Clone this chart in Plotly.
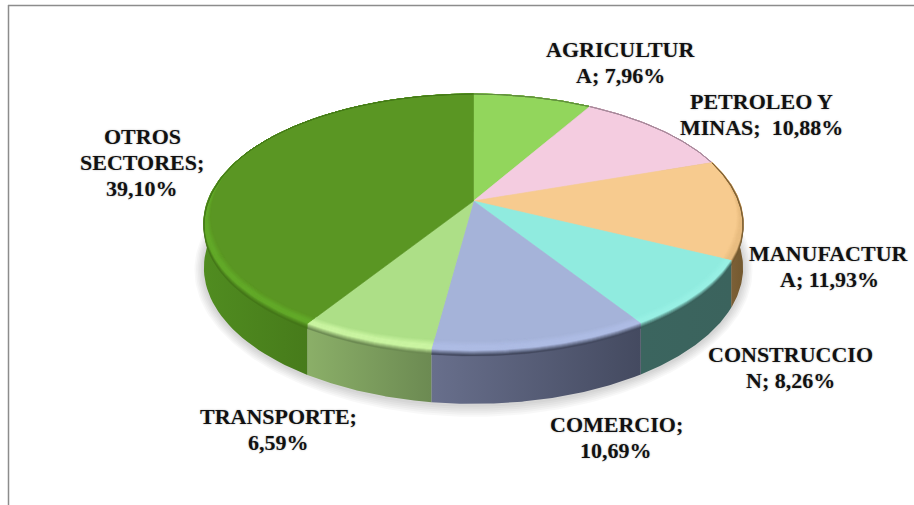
import numpy as np
import plotly.graph_objects as go

# slices run clockwise from 12 o'clock
names = ['AGRICULTUR<br>A', 'PETROLEO Y<br>MINAS', 'MANUFACTUR<br>A', 'CONSTRUCCIO<br>N',
         'COMERCIO', 'TRANSPORTE', 'OTROS<br>SECTORES']
values = [7.96, 10.88, 11.93, 8.26, 10.69, 6.59, 39.10]
separators = [' ', '  ', ' ', ' ', '<br>', '<br>', '<br>']

top_colors = ['#92D65C', '#F4CCE0', '#F7CB8F', '#90EBDF', '#A5B3D9', '#ADDF87', '#5A9623']
glow_colors = ['#92D65C', '#F4CCE0', '#E8BC80', '#98F0E4', '#AEBCE4', '#CBF5A2', '#63AA29']
side_colors = [
    ['#5F8A3C', '#5F8A3C'],
    ['#A08595', '#A08595'],
    ['#8A6C46', '#74592F'],
    ['#3B655F', '#3B635D'],
    ['#686F8C', '#444A60'],
    ['#8BAF68', '#6C8A52'],
    ['#508C20', '#447619', '#4A7F1B'],
]

# label centres in page pixels
label_x = [620, 761, 829, 790, 616, 278, 142]
label_y = [62, 114, 266, 367, 437, 429, 162]
LINE_PITCH = 26

# perspective of the disc, page pixels
CX, CY = 473.5, 201
A, B, K = 265.8, 124.9, 0.1673
DEPTH = 44


def project(t, r=1.0):
    u, v = r * np.sin(t), r * np.cos(t)
    d = 1 + K * v
    return CX + A * u / d, CY - B * v / d


def drop(t):
    return DEPTH / (1 + K * np.cos(t))


def rim(t, off):
    # off > 0 moves in along the spoke, off < 0 moves down the wall
    x, y = project(t)
    fade = np.clip((0.38 - np.cos(t)) / 0.7, 0, 1)
    if off >= 0:
        length = np.hypot(x - CX, y - CY)
        return project(t, 1 - off * fade / length)
    return x, y - off * fade


def blend(c1, c2, f):
    a = [int(c1[i:i + 2], 16) for i in (1, 3, 5)]
    b = [int(c2[i:i + 2], 16) for i in (1, 3, 5)]
    return '#%02X%02X%02X' % tuple(round(p + (q - p) * f) for p, q in zip(a, b))


def scale(colors):
    return [[i / (len(colors) - 1), c] for i, c in enumerate(colors)]


fig = go.Figure()


def add_poly(x, y, **style):
    fig.add_trace(go.Scatter(x=x, y=y, mode='lines', fill='toself', hoverinfo='skip',
                             line=style.pop('line', dict(width=0)), **style))


edges = np.concatenate([[0], np.cumsum(values)]) / sum(values) * 2 * np.pi
arcs = [np.linspace(a, b, 80) for a, b in zip(edges[:-1], edges[1:])]

# soft shadow under the wall
whole = np.linspace(0, 2 * np.pi, 240)
for grow in (12, 10, 8, 6, 4, 2):
    x, y = project(whole)
    y = y + drop(whole)
    dist = np.hypot(x - CX, y - CY - 30)
    add_poly(x + (x - CX) / dist * grow * 0.8, y + (y - CY - 30) / dist * grow + 1,
             fillcolor='rgba(0,0,0,0.028)')

# outer wall
for t, cols in zip(arcs, side_colors):
    x, y = project(t)
    add_poly(np.r_[x, x[::-1]], np.r_[y, (y + drop(t))[::-1]],
             fillgradient=dict(type='horizontal', colorscale=scale(cols)))

# top wedges
for t, col in zip(arcs, top_colors):
    x, y = project(t)
    add_poly(np.r_[CX, x, CX], np.r_[CY, y, CY], fillcolor=col, line=dict(width=0.6, color=col))

# bevel along the rim, one pixel steps from the top face into the wall
for t, top, glow, cols in zip(arcs, top_colors, glow_colors, side_colors):
    mid = cols[len(cols) // 2]
    for off in np.arange(9, -5, -1.0):
        if off > 4:
            col = blend(top, glow, (9 - off) / 5)
        elif off > 1:
            col = glow
        else:
            col = blend(glow, mid, (1 - off) / 5)
        xi, yi = rim(t, off)
        xo, yo = rim(t, off - 1)
        add_poly(np.r_[xi, xo[::-1]], np.r_[yi, yo[::-1]], fillcolor=col,
                 line=dict(width=0.5, color=col))

for name, sep, val, lx, ly in zip(names, separators, values, label_x, label_y):
    text = f"{name};" + sep + f"{val:.2f}%".replace('.', ',')
    lines = text.split('<br>')
    for i, line in enumerate(lines):
        fig.add_annotation(x=lx, y=ly + (i - (len(lines) - 1) / 2) * LINE_PITCH, text=f"<b>{line}</b>",
                           showarrow=False, xanchor='center', yanchor='middle',
                           font=dict(family='Liberation Serif', size=22, color='#111111',
                                     shadow='0 0 2px rgba(0,0,0,0.3)'))

# frame cropped by the picture edge
frame = dict(color='#8C8C8C', width=1.5)
fig.add_shape(type='line', x0=8, x1=914, y0=5.5, y1=5.5, line=frame)
fig.add_shape(type='line', x0=8.5, x1=8.5, y0=5, y1=505, line=frame)

fig.update_layout(
    width=914, height=505,
    margin=dict(l=0, r=0, t=0, b=0),
    paper_bgcolor='white', plot_bgcolor='white',
    showlegend=False,
    xaxis=dict(range=[0, 914], visible=False, fixedrange=True),
    yaxis=dict(range=[505, 0], visible=False, fixedrange=True),
)
fig.write_html("out.html", config=dict(displayModeBar=False),
               post_script="document.body.style.margin='0';document.body.style.overflow='hidden';")
